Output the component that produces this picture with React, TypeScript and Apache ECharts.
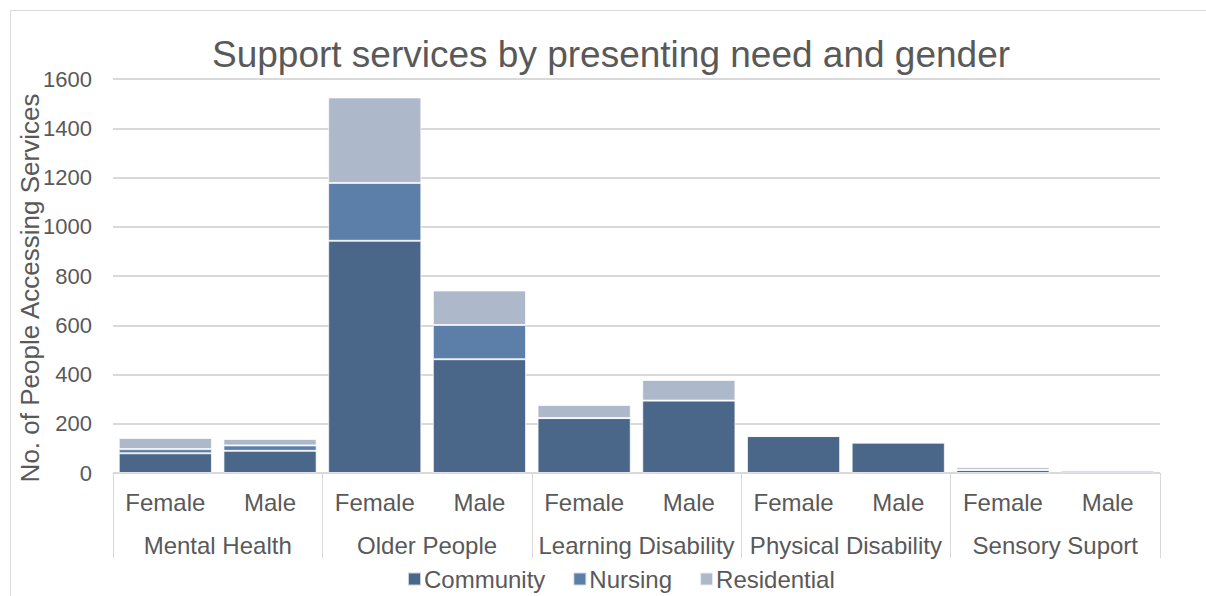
import React, { useEffect, useRef } from "react";
import * as echarts from "echarts";

const genders = ["Female", "Male", "Female", "Male", "Female", "Male", "Female", "Male", "Female", "Male"];
const groups = ["Mental Health", "Older People", "Learning Disability", "Physical Disability", "Sensory Suport"];
const community = [80, 90, 943, 462, 223, 294, 150, 123, 12, 9];
const nursing = [17, 22, 235, 139, 0, 0, 0, 2, 0, 0];
const residential = [45, 26, 347, 140, 53, 84, 3, 5, 11, 2];
const yTicks = { min: 0, max: 1600, interval: 200 };

const TXT = "#595959";
const FONT = "Liberation Sans, Arial, sans-serif";

export default function App() {
  const ref = useRef<HTMLDivElement>(null);
  useEffect(() => {
    const chart = echarts.init(ref.current!, null, { renderer: "svg" });
    const barStyle = (c: string) => ({ color: c, borderColor: "rgba(255,255,255,0.7)", borderWidth: 1 });
    chart.setOption({
      animation: false,
      textStyle: { fontFamily: FONT, color: TXT },
      title: {
        text: "Support services by presenting need and gender",
        left: 207,
        top: 31,
        textStyle: { fontFamily: FONT, fontSize: 37, fontWeight: "normal", color: TXT },
      },
      graphic: [
        {
          type: "rect",
          shape: { x: 10.5, y: 10.5, width: 1200, height: 600 },
          style: { fill: "none", stroke: "#d9d9d9", lineWidth: 1 },
          silent: true,
        },
        {
          type: "text",
          x: 30,
          y: 288,
          rotation: Math.PI / 2,
          style: {
            text: "No. of People Accessing Services",
            fontFamily: FONT,
            fontSize: 26,
            fill: TXT,
            align: "center",
            verticalAlign: "middle",
          },
          silent: true,
        },
      ],
      legend: {
        bottom: 0,
        left: 402,
        itemWidth: 13,
        itemHeight: 13,
        itemGap: 27,
        icon: "rect",
        textStyle: { fontFamily: FONT, fontSize: 24, color: TXT, padding: [0, 0, 0, -2] },
        data: ["Community", "Nursing", "Residential"],
      },
      grid: { left: 113, right: 46, top: 79, bottom: 123, containLabel: false },
      xAxis: [
        {
          type: "category",
          data: genders,
          axisLine: { show: true, lineStyle: { color: "#d9d9d9", width: 1 } },
          axisTick: { show: false },
          axisLabel: { fontFamily: FONT, fontSize: 24, color: TXT, margin: 17, interval: 0 },
        },
        {
          type: "category",
          data: groups,
          position: "bottom",
          axisLine: { show: false },
          axisTick: { show: true, interval: 0, length: 85, lineStyle: { color: "#d9d9d9", width: 1 } },
          axisLabel: { fontFamily: FONT, fontSize: 24, color: TXT, margin: 60, interval: 0 },
        },
      ],
      yAxis: {
        type: "value",
        min: yTicks.min,
        max: yTicks.max,
        interval: yTicks.interval,
        axisLine: { show: false },
        axisTick: { show: false },
        axisLabel: { fontFamily: FONT, fontSize: 22, color: TXT, margin: 21, formatter: (v: number) => String(v) },
        splitLine: { lineStyle: { color: "#d9d9d9", width: 2 } },
      },
      series: [
        { name: "Community", type: "bar", stack: "s", data: community, barCategoryGap: "11%", itemStyle: barStyle("#4a6789") },
        { name: "Nursing", type: "bar", stack: "s", data: nursing, itemStyle: barStyle("#5b7fa8") },
        { name: "Residential", type: "bar", stack: "s", data: residential, itemStyle: barStyle("#adb8cb") },
      ],
    });
    return () => chart.dispose();
  }, []);
  return <div ref={ref} style={{ width: 1206, height: 596, position: "absolute", left: 0, top: 0 }} />;
}
